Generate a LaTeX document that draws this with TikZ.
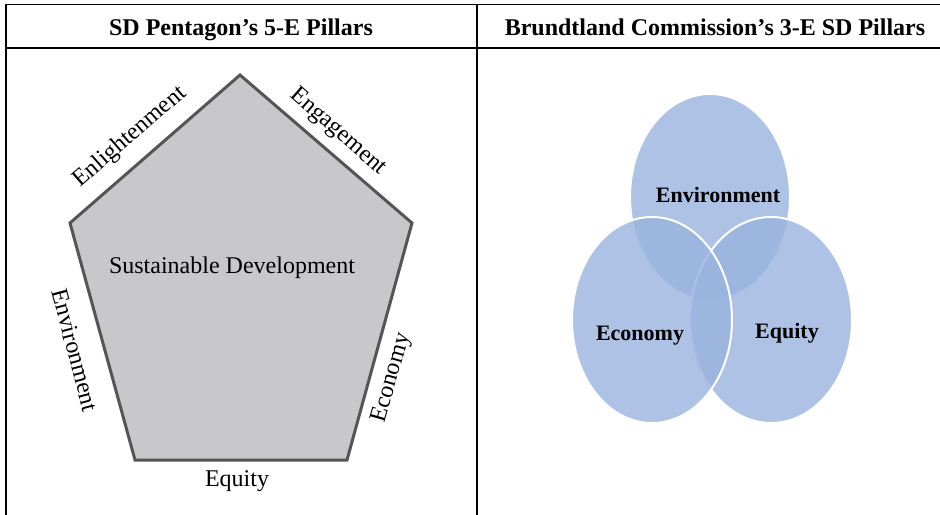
\documentclass[tikz,border=0pt]{standalone}
\usepackage{fontspec}
\setmainfont{Liberation Serif}
\definecolor{vennblue}{RGB}{152,179,223}
\definecolor{pentfill}{RGB}{200,200,202}
\definecolor{pentline}{RGB}{85,85,85}
\begin{document}
\begin{tikzpicture}
  [x=.5pt,y=-.5pt,every node/.style={inner sep=0pt,font=\fontsize{12}{14}\selectfont},
   head/.style={anchor=base,font=\fontsize{12}{14}\selectfont\bfseries},
   ring/.style={fill=vennblue,fill opacity=.8,draw=white,line width=1pt},
   pillar/.style={font=\fontsize{11}{13}\selectfont\bfseries}]
  \useasboundingbox (0,0) rectangle (940,514);
  % table frame
  \coordinate (t1) at (6,4.5);
  \coordinate (t2) at (940,4.5);
  \coordinate (t3) at (6,48);
  \coordinate (t4) at (940,48);
  \coordinate (t5) at (6,514);
  \coordinate (t6) at (477,4.5);
  \coordinate (t7) at (477,514);
  \foreach \from/\to in {t1/t2,t3/t4,t1/t5,t6/t7}
    \draw[line width=.75pt,line cap=rect] (\from) -- (\to);
  \node[head] (hleft) at (241,35) {SD Pentagon’s 5-E Pillars};
  \node[head] (hright) at (715,35) {Brundtland Commission’s 3-E SD Pillars};

  % pentagon
  \coordinate (p1) at (240,75);
  \coordinate (p2) at (412,223);
  \coordinate (p3) at (347,460);
  \coordinate (p4) at (135,460);
  \coordinate (p5) at (70,223);
  \draw[draw=pentline,fill=pentfill,line width=1.5pt] (p1) -- (p2) -- (p3) -- (p4) -- (p5) -- cycle;
  \node (sd) at (232,268) {Sustainable Development};
  \node[rotate=41] (enl) at (130,137) {Enlightenment};
  \node[rotate=-41] (eng) at (338,132) {Engagement};
  \node[rotate=-75] (env) at (75,350) {Environment};
  \node[rotate=74] (eco) at (392,378) {Economy};
  \node (equ) at (237,481) {Equity};

  % venn
  \draw[ring] (710,197) ellipse [x radius=80,y radius=103];
  \draw[ring] (771,320) ellipse [x radius=81,y radius=103];
  \draw[ring] (652,320) ellipse [x radius=80,y radius=103];
  \node[pillar] (venv) at (718,195) {Environment};
  \node[pillar] (veco) at (640,336) {Economy};
  \node[pillar] (vequ) at (787,333) {Equity};
\end{tikzpicture}
\end{document}
